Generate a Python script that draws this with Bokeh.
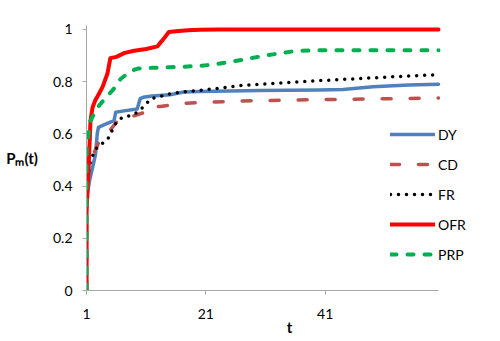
from bokeh.plotting import figure
from bokeh.models import Range1d, FixedTicker, CustomJSTickFormatter, Legend, LegendItem
from bokeh.embed import file_html
from bokeh.resources import INLINE

DY_x = [1, 1, 1.5, 2, 2.5, 2.8, 3, 4, 5, 5.6, 5.9, 7, 9.5, 10, 10.5, 12, 15, 17.3, 20, 25, 30, 35, 40, 44, 49, 55, 60]
DY_y = [0, 0.35, 0.42, 0.47, 0.52, 0.6, 0.625, 0.635, 0.645, 0.65, 0.683, 0.687, 0.695, 0.735, 0.74, 0.745, 0.75, 0.76, 0.762, 0.764, 0.766, 0.767, 0.768, 0.77, 0.78, 0.787, 0.79]

CD_x = [1, 1, 1.34, 2.2, 3, 3.9, 5, 6.2, 8.4, 10.4, 10.9, 13.4, 17.3, 20, 28.6, 40, 50, 60]
CD_y = [0, 0.35, 0.47, 0.525, 0.565, 0.59, 0.615, 0.65, 0.665, 0.68, 0.70, 0.705, 0.717, 0.72, 0.727, 0.731, 0.734, 0.737]

FR_x = [1, 1, 1.3, 1.7, 2.3, 3, 4.2, 5, 5.4, 6.2, 7.2, 8.6, 9.7, 10.6, 11.8, 12.9, 14.6, 17.1, 20.2, 23, 26.9, 30, 37, 45.4, 53.8, 60]
FR_y = [0, 0.38, 0.45, 0.50, 0.53, 0.555, 0.57, 0.595, 0.62, 0.65, 0.665, 0.67, 0.685, 0.705, 0.735, 0.74, 0.752, 0.76, 0.767, 0.774, 0.785, 0.79, 0.80, 0.81, 0.82, 0.827]

OFR_x = [1, 1, 1.34, 1.67, 2, 2.5, 3, 3.7, 4.5, 5, 6, 7.4, 9, 11, 12.9, 13.4, 13.8, 14.8, 16, 18, 20, 23, 60]
OFR_y = [0, 0.30, 0.46, 0.65, 0.70, 0.73, 0.75, 0.78, 0.83, 0.89, 0.895, 0.91, 0.918, 0.925, 0.935, 0.95, 0.96, 0.99, 0.993, 0.997, 0.999, 1.0, 1.0]

PRP_x = [1, 1, 1.1, 1.67, 2.8, 3.9, 5.5, 6.7, 8.4, 9.6, 12, 15, 18, 20, 22, 25, 28.6, 31, 35.3, 37, 40, 60]
PRP_y = [0, 0.50, 0.56, 0.65, 0.70, 0.73, 0.77, 0.81, 0.84, 0.85, 0.853, 0.855, 0.858, 0.86, 0.865, 0.875, 0.89, 0.90, 0.915, 0.918, 0.92, 0.92]

x_ticks = [1, 21, 41]
y_ticks = [0, 0.2, 0.4, 0.6, 0.8, 1.0]
x_min, x_max = 1, 60

FONT = "Lato"

p = figure(width=492, height=338, output_backend="svg", toolbar_location=None,
           x_range=Range1d(1, 69.05), y_range=Range1d(0, 1.015),
           min_border_left=86, min_border_right=0, min_border_top=25, min_border_bottom=47)
p.outline_line_color = None
p.grid.visible = False

for ax in (p.xaxis[0], p.yaxis[0]):
    ax.axis_line_color = "#A6A6A6"
    ax.major_tick_line_color = "#A6A6A6"
    ax.minor_tick_line_color = None
    ax.major_tick_in = 0
    ax.major_tick_out = 4
    ax.major_label_text_font = FONT
    ax.major_label_text_font_size = "14px"
    ax.major_label_text_color = "#000000"
    ax.axis_label_text_font = FONT
    ax.axis_label_text_font_style = "bold"
    ax.axis_label_text_font_size = "15px"
    ax.axis_label_text_color = "#000000"

p.xaxis.bounds = (x_min, x_max)
p.xaxis.ticker = FixedTicker(ticks=x_ticks)
p.yaxis.ticker = FixedTicker(ticks=y_ticks)
p.yaxis.formatter = CustomJSTickFormatter(code="return tick.toFixed(1).replace(/\\.0$/, '');")
p.yaxis.major_label_standoff = 10
p.xaxis.major_label_standoff = 14
p.xaxis.axis_label = "t"
p.xaxis.axis_label_standoff = -4
p.yaxis.axis_label = "P\u2098(t)"
p.yaxis.axis_label_orientation = "horizontal"
p.yaxis.axis_label_standoff = 12

r_dy = p.line(DY_x, DY_y, line_color="#4F81BD", line_width=3.5, line_cap="round", line_join="round")
r_cd = p.line(CD_x, CD_y, line_color="#C0504D", line_width=3.5, line_dash="9 19", line_cap="round")
r_fr = p.line(FR_x, FR_y, line_color="#000000", line_width=3.5, line_dash="0 8", line_cap="round")
r_ofr = p.line(OFR_x, OFR_y, line_color="#FF0000", line_width=4, line_cap="round", line_join="round")
r_prp = p.line(PRP_x, PRP_y, line_color="#00B050", line_width=4, line_dash="6 11", line_cap="round")

legend = Legend(items=[
    LegendItem(label="DY", renderers=[r_dy]),
    LegendItem(label="CD", renderers=[r_cd]),
    LegendItem(label="FR", renderers=[r_fr]),
    LegendItem(label="OFR", renderers=[r_ofr]),
    LegendItem(label="PRP", renderers=[r_prp]),
], location=(304, 26), glyph_width=45, glyph_height=20, label_height=20, spacing=10,
   padding=0, margin=0, label_standoff=3, border_line_color=None, background_fill_alpha=0,
   label_text_font=FONT, label_text_font_size="14px", label_text_color="#000000")
p.add_layout(legend, "center")

open("out.html", "w").write(file_html(p, INLINE))
